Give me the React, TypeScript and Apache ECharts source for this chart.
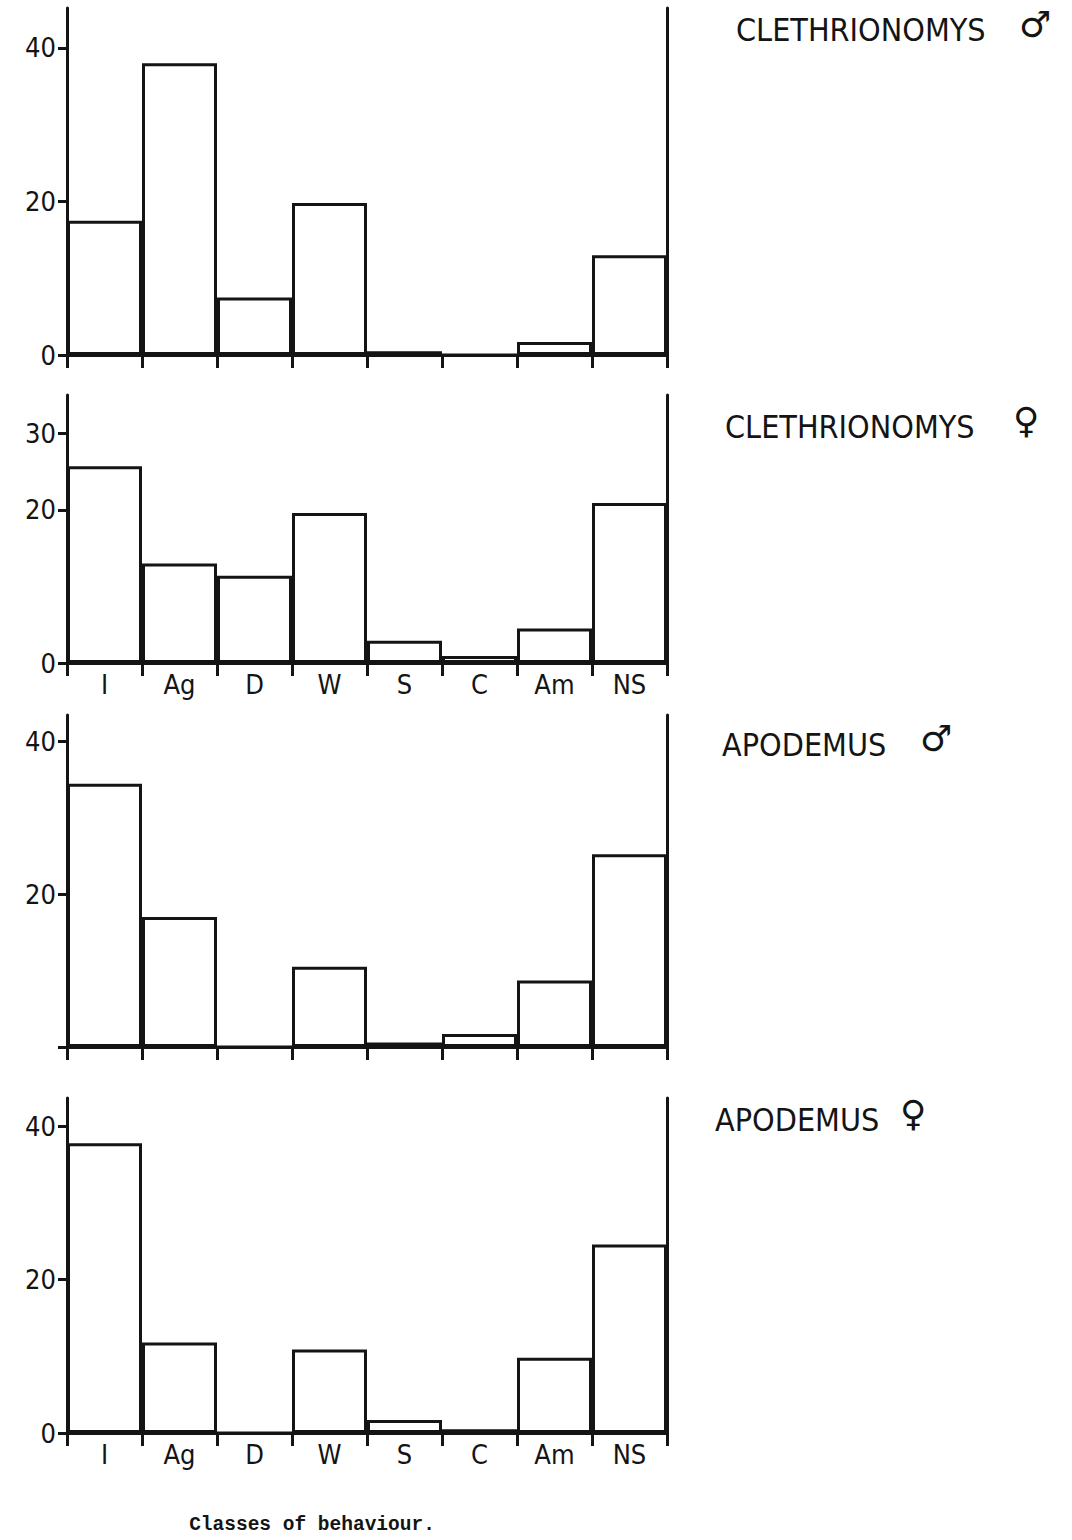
import React, { useEffect, useRef } from "react";
import * as echarts from "echarts";

const categories = ["I", "Ag", "D", "W", "S", "C", "Am", "NS"];
const clethrionomysMale = [17.5, 38, 7.5, 19.8, 0.5, 0, 1.7, 13];
const clethrionomysFemale = [25.7, 13, 11.4, 19.6, 2.9, 0.9, 4.5, 20.9];
const apodemusMale = [34.4, 17, 0, 10.5, 0.6, 1.7, 8.7, 25.2];
const apodemusFemale = [37.8, 11.8, 0, 10.9, 1.7, 0.5, 9.8, 24.6];

const yTicks1 = [0, 20, 40];
const yTicks2 = [0, 20, 30];
const yTicks3 = [0, 20, 40];
const yTicks4 = [0, 20, 40];
const yLabels3 = [20, 40];

const panelTitles = ["CLETHRIONOMYS", "CLETHRIONOMYS", "APODEMUS", "APODEMUS"];
const panelSymbols = ["♂", "♀", "♂", "♀"];
const xAxisTitle = "Classes of behaviour.";

const INK = "#141414";
const SANS = "'DejaVu Sans Condensed', 'DejaVu Sans', sans-serif";

export default function App() {
  const ref = useRef<HTMLDivElement>(null);

  useEffect(() => {
    if (!ref.current) return;
    const chart = echarts.init(ref.current, undefined, { renderer: "svg" });

    const panels = [
      { data: clethrionomysMale, ticks: yTicks1, labels: yTicks1, top: 8, height: 347, max: 45.2, showX: false },
      { data: clethrionomysFemale, ticks: yTicks2, labels: yTicks2, top: 395, height: 268, max: 35, showX: true },
      { data: apodemusMale, ticks: yTicks3, labels: yLabels3, top: 715, height: 332, max: 43.4, showX: false },
      { data: apodemusFemale, ticks: yTicks4, labels: yTicks4, top: 1098, height: 335, max: 43.7, showX: true },
    ];

    const grid: any[] = [];
    const xAxis: any[] = [];
    const yAxis: any[] = [];
    const series: any[] = [];

    panels.forEach((p, i) => {
      grid.push({ left: 67, width: 600, top: p.top, height: p.height, containLabel: false });
      xAxis.push({
        type: "category",
        gridIndex: i,
        data: categories,
        boundaryGap: true,
        axisLine: { show: true, lineStyle: { color: INK, width: 3 } },
        axisTick: { show: true, length: 13, interval: 0, alignWithLabel: false, lineStyle: { color: INK, width: 3 } },
        axisLabel: {
          show: p.showX,
          interval: 0,
          margin: 8,
          color: INK,
          fontSize: 27,
          fontFamily: SANS,
        },
        splitLine: { show: false },
      });
      yAxis.push({
        type: "value",
        gridIndex: i,
        min: 0,
        max: p.max,
        position: "left",
        axisLine: { show: true, onZero: false, lineStyle: { color: INK, width: 3 } },
        axisTick: { show: true, length: 9, customValues: p.ticks, lineStyle: { color: INK, width: 3 } },
        axisLabel: {
          show: true,
          customValues: p.labels,
          margin: 11,
          color: INK,
          fontSize: 27,
          fontFamily: SANS,
        },
        splitLine: { show: false },
      });
      yAxis.push({
        type: "value",
        gridIndex: i,
        min: 0,
        max: p.max,
        position: "right",
        axisLine: { show: true, onZero: false, lineStyle: { color: INK, width: 3 } },
        axisTick: { show: false },
        axisLabel: { show: false },
        splitLine: { show: false },
      });
      series.push({
        type: "bar",
        xAxisIndex: i,
        yAxisIndex: i * 2,
        data: p.data,
        barCategoryGap: "0%",
        itemStyle: { color: "rgba(255,255,255,0)", borderColor: INK, borderWidth: 3 },
        emphasis: { disabled: true },
        silent: true,
      });
    });

    const titlePos = [
      { x: 736, y: 30, sx: 1019, sy: 24 },
      { x: 725, y: 427, sx: 1013, sy: 420 },
      { x: 722, y: 745, sx: 920, sy: 738 },
      { x: 715, y: 1120, sx: 900, sy: 1113 },
    ];

    const graphic: any[] = [];
    titlePos.forEach((t, i) => {
      graphic.push({
        type: "text",
        x: t.x,
        y: t.y,
        style: { text: panelTitles[i], fontSize: 32, fontFamily: SANS, fill: INK, verticalAlign: "middle", align: "left" },
      });
      graphic.push({
        type: "text",
        x: t.sx,
        y: t.sy,
        style: { text: panelSymbols[i], fontSize: 36, fontFamily: "'DejaVu Sans', sans-serif", fill: INK, verticalAlign: "middle", align: "left" },
      });
    });
    graphic.push({
      type: "text",
      x: 312,
      y: 1525,
      style: {
        text: xAxisTitle,
        fontSize: 19.5,
        fontWeight: "bold",
        fontFamily: "'Liberation Mono', 'DejaVu Sans Mono', monospace",
        fill: INK,
        verticalAlign: "middle",
        align: "center",
      },
    });

    chart.setOption({
      animation: false,
      backgroundColor: "#ffffff",
      grid,
      xAxis,
      yAxis,
      series,
      graphic,
    });

    return () => chart.dispose();
  }, []);

  return (
    <div
      ref={ref}
      style={{ position: "absolute", left: 0, top: 0, width: 1072, height: 1540, background: "#fff" }}
    />
  );
}
